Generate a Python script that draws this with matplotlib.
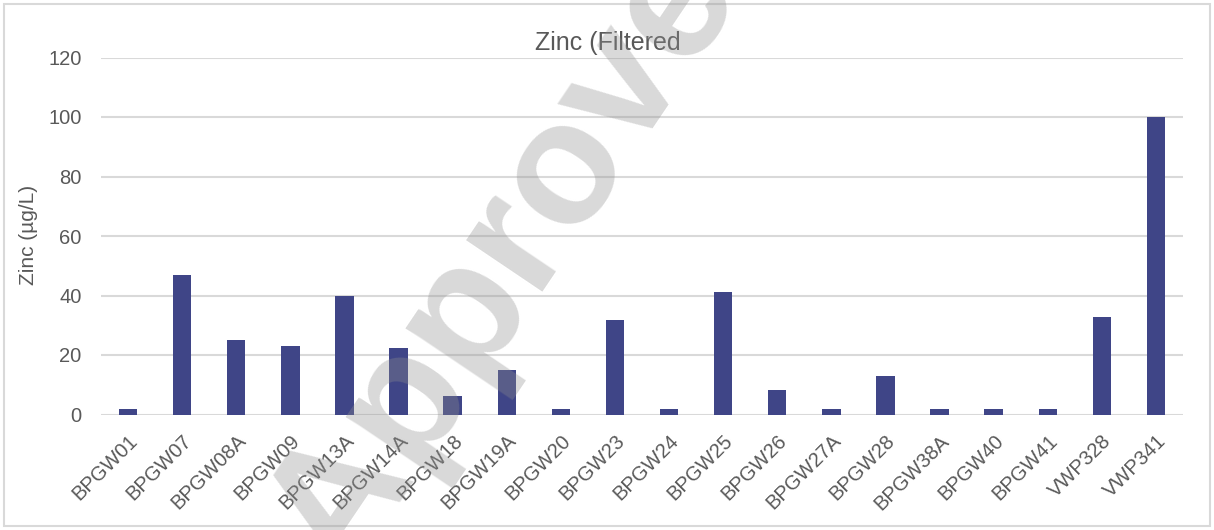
import matplotlib
matplotlib.use("Agg")
import matplotlib.pyplot as plt
import numpy as np

# data
wells = ["BPGW01", "BPGW07", "BPGW08A", "BPGW09", "BPGW13A", "BPGW14A", "BPGW18",
         "BPGW19A", "BPGW20", "BPGW23", "BPGW24", "BPGW25", "BPGW26", "BPGW27A",
         "BPGW28", "BPGW38A", "BPGW40", "BPGW41", "VWP328", "VWP341"]
zinc = [2, 47, 25, 23, 39.7, 22.3, 6.3, 15, 2, 31.7, 2, 41.1, 8.3, 2, 13.1,
        2, 2, 2, 32.9, 100]
y_ticks = [0, 20, 40, 60, 80, 100, 120]

plt.rcParams['font.family'] = ['Liberation Sans', 'DejaVu Sans']
TEXT = '#595959'
GRID = '#D9D9D9'
BAR = '#3F4587'
W, H = 1214, 530

fig = plt.figure(figsize=(W / 100, H / 100), dpi=100)
ax = fig.add_axes([101 / W, 1 - 414.5 / H, (1183 - 101) / W, (414.5 - 57.5) / H])

x = np.arange(len(wells))
ax.bar(x, zinc, width=0.34, color=BAR, zorder=3)

ax.set_xlim(-0.5, len(wells) - 0.5)
ax.set_ylim(0, 120)
ax.set_yticks(y_ticks)
ax.set_yticklabels([str(t) for t in y_ticks], fontsize=14.5, color=TEXT)
ax.set_xticks(x)
ax.set_xticklabels(wells, rotation=45, ha='right', rotation_mode='anchor',
                   fontsize=14.5, color=TEXT)
ax.tick_params(axis='y', length=0, pad=14)
ax.tick_params(axis='x', length=0, pad=12)
ax.yaxis.grid(True, color=GRID, linewidth=1.5, zorder=0)
for s in ax.spines.values():
    s.set_visible(False)

fig.text(28 / W, 1 - 235 / H, 'Zinc (µg/L)', rotation=90, ha='center', va='center',
         fontsize=15, color=TEXT)
fig.text(608 / W, 1 - 50 / H, 'Zinc (Filtered', ha='center', va='baseline',
         fontsize=18, color=TEXT)

# outer chart border
fig.patches.append(plt.Rectangle((4 / W, 4 / H), 1 - 8 / W, 1 - 8 / H,
                                 transform=fig.transFigure, fill=False,
                                 edgecolor=GRID, linewidth=1.5))

# watermark
fig.text(535 / W, 1 - 215 / H, 'Approved', ha='center', va='center',
         rotation=56, fontsize=126, fontweight='bold', color='#8F8F8F',
         alpha=0.34, zorder=10)

fig.savefig('out.png', dpi=100)
